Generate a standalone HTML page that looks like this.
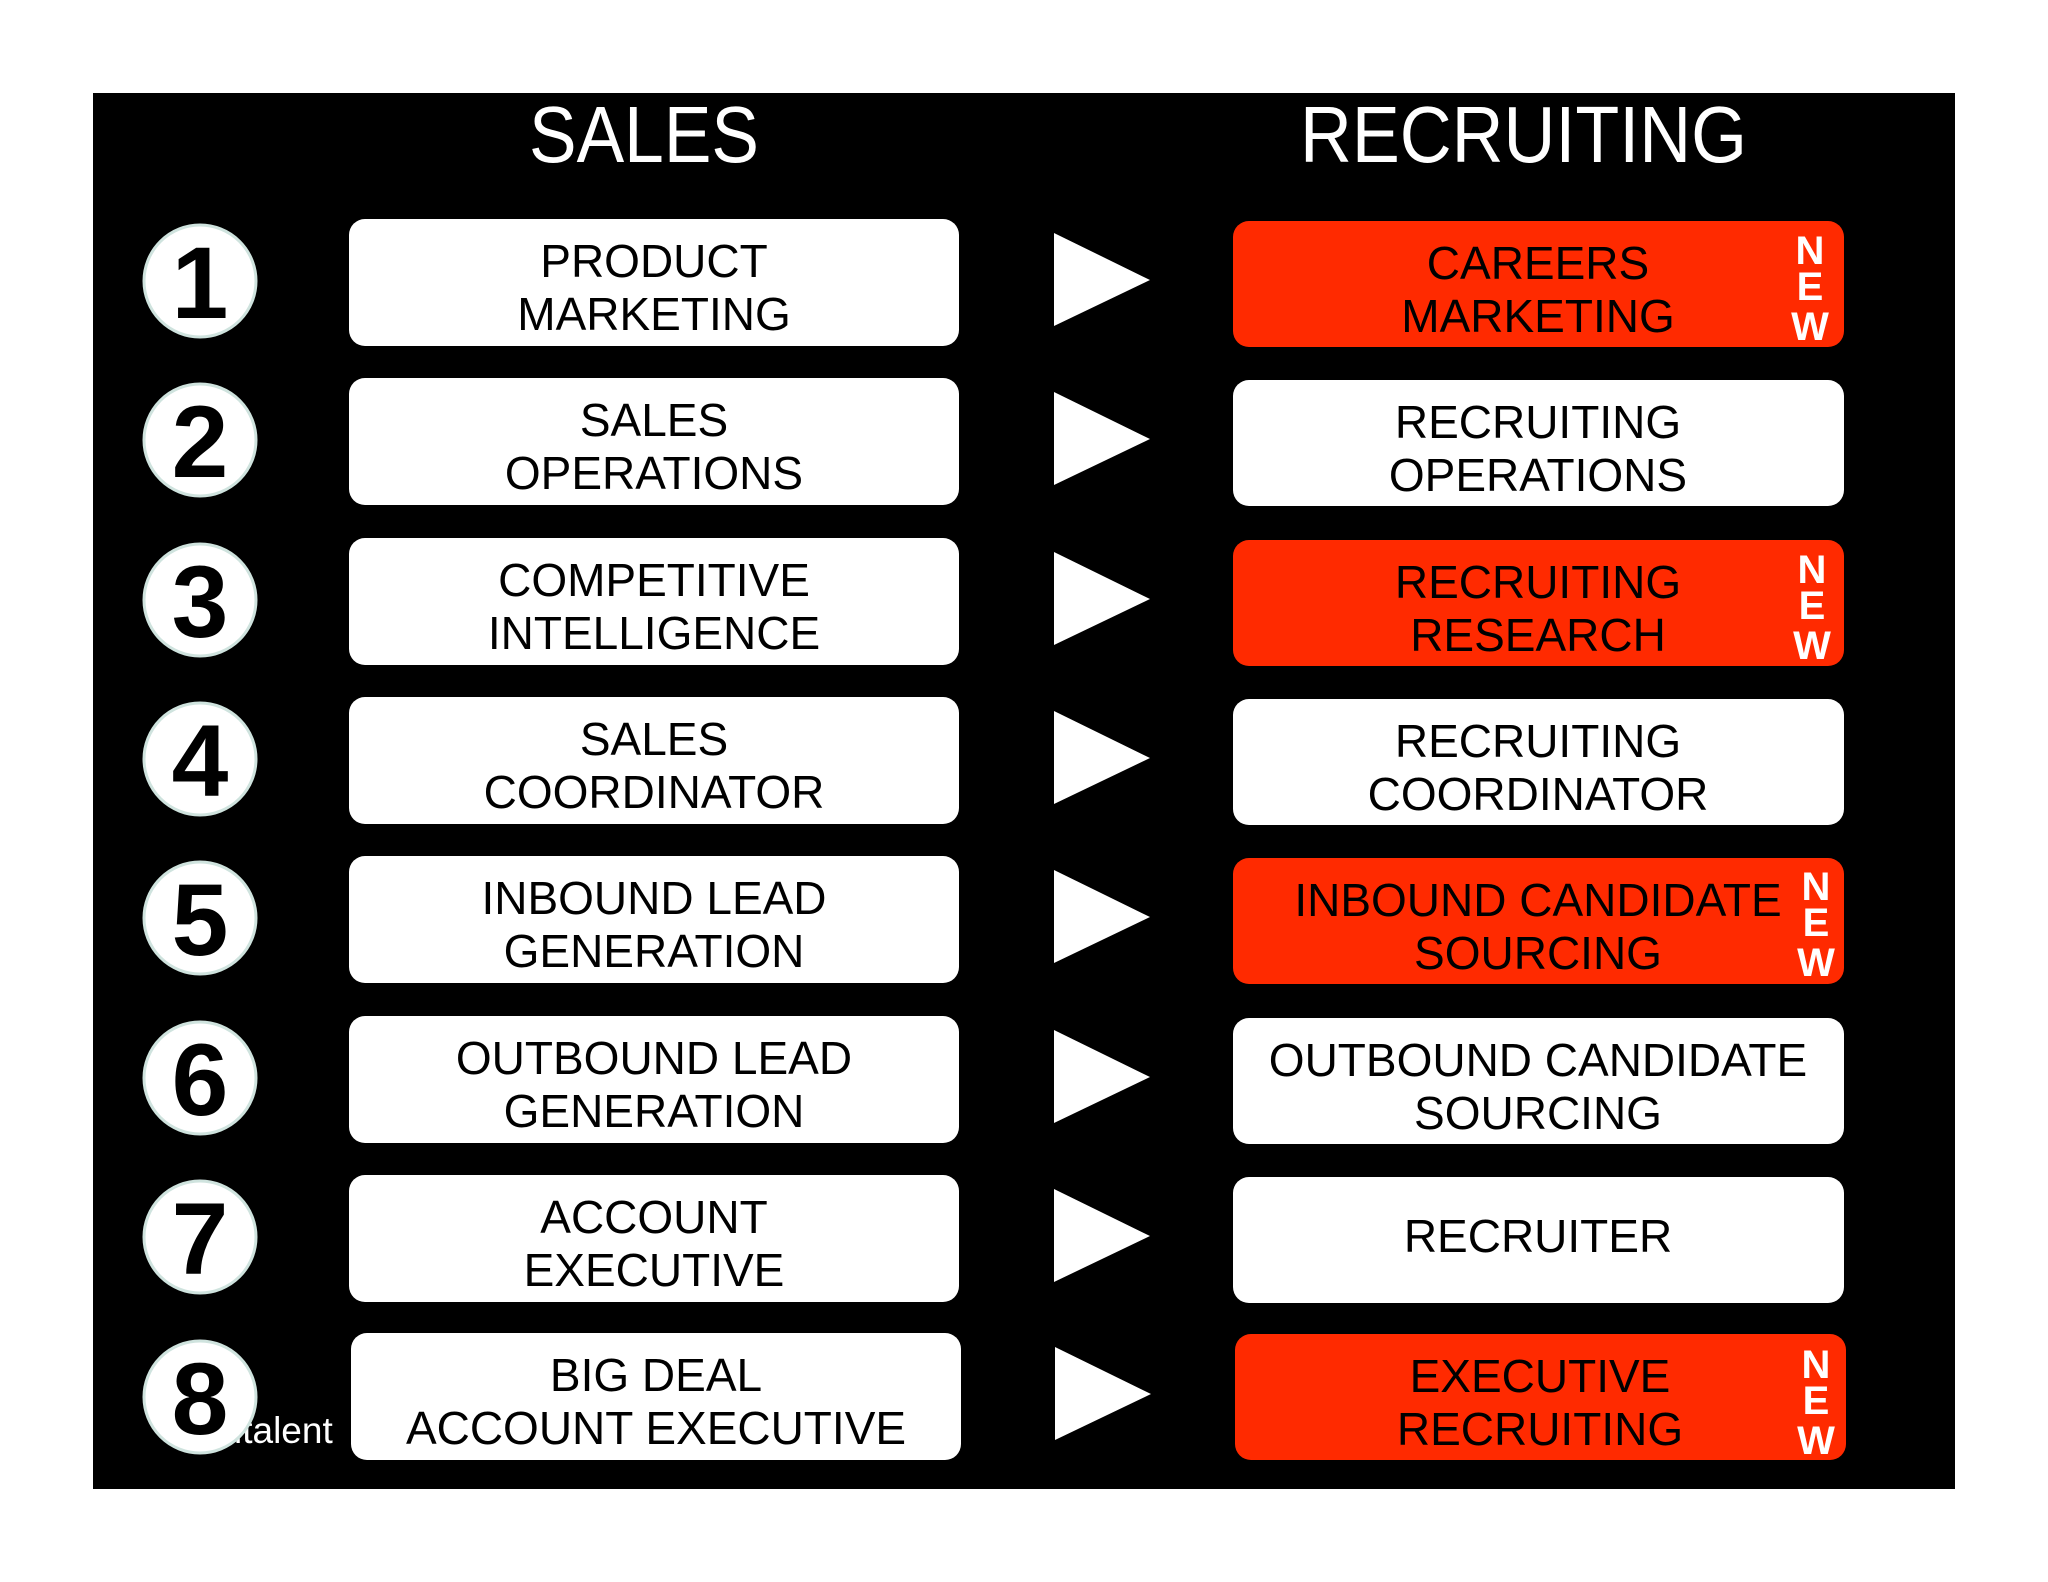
<!DOCTYPE html>
<html><head><meta charset="utf-8"><style>
html,body{margin:0;padding:0;background:#fff;}
svg{display:block;}
text{font-family:"Liberation Sans",Arial,sans-serif;}
</style></head><body>
<svg width="2048" height="1582" viewBox="0 0 2048 1582" xmlns="http://www.w3.org/2000/svg">
<rect x="0" y="0" width="2048" height="1582" fill="#fff"/>
<rect x="93" y="93" width="1862" height="1396" fill="#000"/>
<text x="529" y="162" font-size="80" fill="#fff" textLength="230" lengthAdjust="spacingAndGlyphs">SALES</text>
<text x="1300" y="162" font-size="80" fill="#fff" textLength="447" lengthAdjust="spacingAndGlyphs">RECRUITING</text>
<g font-size="46" text-anchor="middle">
<!-- Row 1 -->
<ellipse cx="200" cy="281" rx="56" ry="56" fill="#fff" stroke="#cfe3de" stroke-width="3"/>
<text x="200" y="318" font-size="102" font-weight="bold" fill="#000">1</text>
<rect x="349" y="219" width="610" height="127" rx="16" fill="#fff"/>
<text x="654" y="277" fill="#000">PRODUCT</text><text x="654" y="330" fill="#000">MARKETING</text>
<polygon points="1054,233 1150,280 1054,326" fill="#fff"/>
<rect x="1233" y="221" width="611" height="126" rx="16" fill="#ff2a00"/>
<text x="1538" y="279" fill="#000">CAREERS</text><text x="1538" y="332" fill="#000">MARKETING</text>
<text x="1810" y="264" font-size="40" font-weight="bold" fill="#fff">N</text><text x="1810" y="300" font-size="40" font-weight="bold" fill="#fff">E</text><text x="1810" y="340" font-size="40" font-weight="bold" fill="#fff">W</text>

<!-- Row 2 -->
<ellipse cx="200" cy="440" rx="56" ry="56" fill="#fff" stroke="#cfe3de" stroke-width="3"/>
<text x="200" y="477" font-size="102" font-weight="bold" fill="#000">2</text>
<rect x="349" y="378" width="610" height="127" rx="16" fill="#fff"/>
<text x="654" y="436" fill="#000">SALES</text><text x="654" y="489" fill="#000">OPERATIONS</text>
<polygon points="1054,392 1150,439 1054,485" fill="#fff"/>
<rect x="1233" y="380" width="611" height="126" rx="16" fill="#fff"/>
<text x="1538" y="438" fill="#000">RECRUITING</text><text x="1538" y="491" fill="#000">OPERATIONS</text>

<!-- Row 3 -->
<ellipse cx="200" cy="600" rx="56" ry="56" fill="#fff" stroke="#cfe3de" stroke-width="3"/>
<text x="200" y="637" font-size="102" font-weight="bold" fill="#000">3</text>
<rect x="349" y="538" width="610" height="127" rx="16" fill="#fff"/>
<text x="654" y="596" fill="#000">COMPETITIVE</text><text x="654" y="649" fill="#000">INTELLIGENCE</text>
<polygon points="1054,552 1150,599 1054,645" fill="#fff"/>
<rect x="1233" y="540" width="611" height="126" rx="16" fill="#ff2a00"/>
<text x="1538" y="598" fill="#000">RECRUITING</text><text x="1538" y="651" fill="#000">RESEARCH</text>
<text x="1812" y="583" font-size="40" font-weight="bold" fill="#fff">N</text><text x="1812" y="619" font-size="40" font-weight="bold" fill="#fff">E</text><text x="1812" y="659" font-size="40" font-weight="bold" fill="#fff">W</text>

<!-- Row 4 -->
<ellipse cx="200" cy="759" rx="56" ry="56" fill="#fff" stroke="#cfe3de" stroke-width="3"/>
<text x="200" y="796" font-size="102" font-weight="bold" fill="#000">4</text>
<rect x="349" y="697" width="610" height="127" rx="16" fill="#fff"/>
<text x="654" y="755" fill="#000">SALES</text><text x="654" y="808" fill="#000">COORDINATOR</text>
<polygon points="1054,711 1150,758 1054,804" fill="#fff"/>
<rect x="1233" y="699" width="611" height="126" rx="16" fill="#fff"/>
<text x="1538" y="757" fill="#000">RECRUITING</text><text x="1538" y="810" fill="#000">COORDINATOR</text>

<!-- Row 5 -->
<ellipse cx="200" cy="918" rx="56" ry="56" fill="#fff" stroke="#cfe3de" stroke-width="3"/>
<text x="200" y="955" font-size="102" font-weight="bold" fill="#000">5</text>
<rect x="349" y="856" width="610" height="127" rx="16" fill="#fff"/>
<text x="654" y="914" fill="#000">INBOUND LEAD</text><text x="654" y="967" fill="#000">GENERATION</text>
<polygon points="1054,870 1150,917 1054,963" fill="#fff"/>
<rect x="1233" y="858" width="611" height="126" rx="16" fill="#ff2a00"/>
<text x="1538" y="916" fill="#000">INBOUND CANDIDATE</text><text x="1538" y="969" fill="#000">SOURCING</text>
<text x="1816" y="900" font-size="40" font-weight="bold" fill="#fff">N</text><text x="1816" y="936" font-size="40" font-weight="bold" fill="#fff">E</text><text x="1816" y="976" font-size="40" font-weight="bold" fill="#fff">W</text>

<!-- Row 6 -->
<ellipse cx="200" cy="1078" rx="56" ry="56" fill="#fff" stroke="#cfe3de" stroke-width="3"/>
<text x="200" y="1115" font-size="102" font-weight="bold" fill="#000">6</text>
<rect x="349" y="1016" width="610" height="127" rx="16" fill="#fff"/>
<text x="654" y="1074" fill="#000">OUTBOUND LEAD</text><text x="654" y="1127" fill="#000">GENERATION</text>
<polygon points="1054,1030 1150,1077 1054,1123" fill="#fff"/>
<rect x="1233" y="1018" width="611" height="126" rx="16" fill="#fff"/>
<text x="1538" y="1076" fill="#000">OUTBOUND CANDIDATE</text><text x="1538" y="1129" fill="#000">SOURCING</text>

<!-- Row 7 -->
<ellipse cx="200" cy="1237" rx="56" ry="56" fill="#fff" stroke="#cfe3de" stroke-width="3"/>
<text x="200" y="1274" font-size="102" font-weight="bold" fill="#000">7</text>
<rect x="349" y="1175" width="610" height="127" rx="16" fill="#fff"/>
<text x="654" y="1233" fill="#000">ACCOUNT</text><text x="654" y="1286" fill="#000">EXECUTIVE</text>
<polygon points="1054,1189 1150,1236 1054,1282" fill="#fff"/>
<rect x="1233" y="1177" width="611" height="126" rx="16" fill="#fff"/>
<text x="1538" y="1252" fill="#000">RECRUITER</text>

<!-- Row 8 -->
<text x="234" y="1443" font-size="37" fill="#fff" text-anchor="start">italent</text>
<ellipse cx="200" cy="1397" rx="56" ry="56" fill="#fff" stroke="#cfe3de" stroke-width="3"/>
<text x="200" y="1434" font-size="102" font-weight="bold" fill="#000">8</text>
<rect x="351" y="1333" width="610" height="127" rx="16" fill="#fff"/>
<text x="656" y="1391" fill="#000">BIG DEAL</text><text x="656" y="1444" fill="#000">ACCOUNT EXECUTIVE</text>
<polygon points="1055,1347 1151,1394 1055,1440" fill="#fff"/>
<rect x="1235" y="1334" width="611" height="126" rx="16" fill="#ff2a00"/>
<text x="1540" y="1392" fill="#000">EXECUTIVE</text><text x="1540" y="1445" fill="#000">RECRUITING</text>
<text x="1816" y="1378" font-size="40" font-weight="bold" fill="#fff">N</text><text x="1816" y="1414" font-size="40" font-weight="bold" fill="#fff">E</text><text x="1816" y="1454" font-size="40" font-weight="bold" fill="#fff">W</text>
</g>
</svg>
</body></html>
